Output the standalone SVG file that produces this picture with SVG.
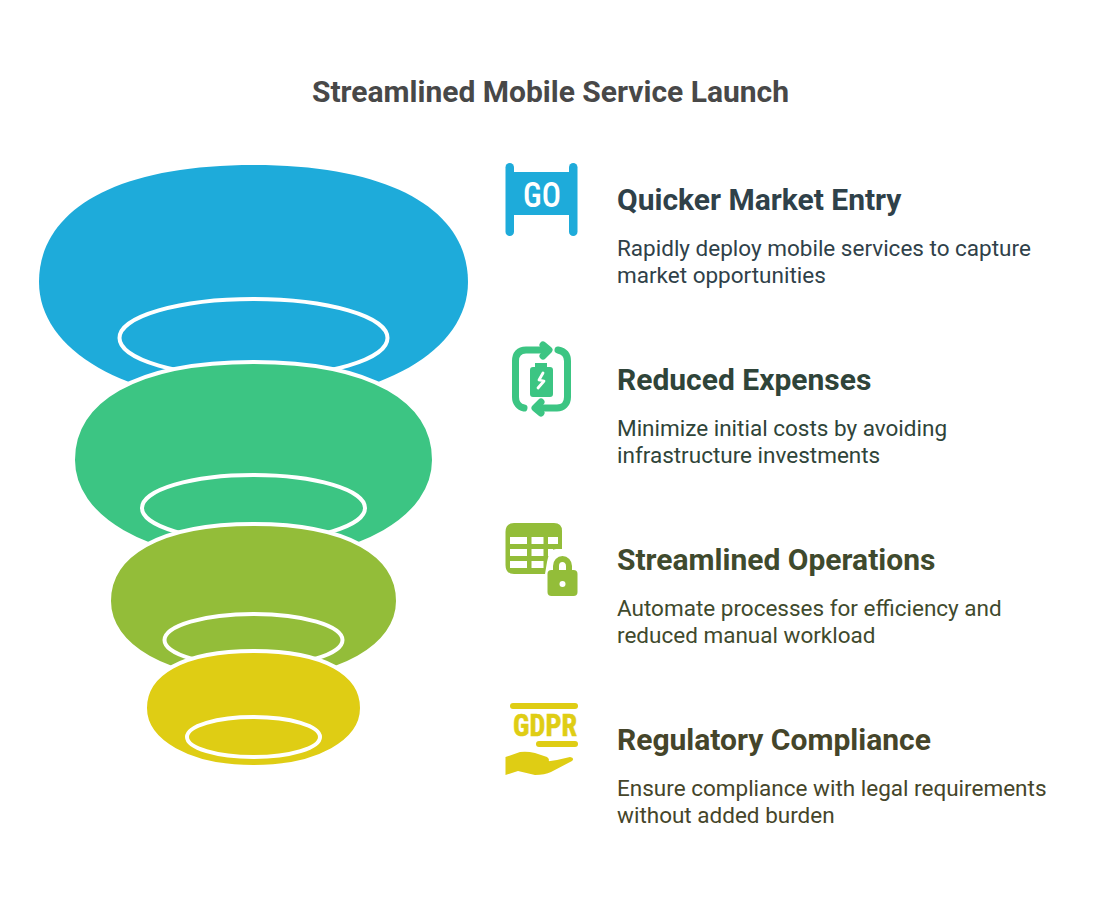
<svg xmlns="http://www.w3.org/2000/svg" width="1102" height="903" viewBox="0 0 1102 903">
<style>
text{font-family:Roboto,"Liberation Sans",sans-serif}
.t{font-size:30px;font-weight:700;fill:#484848}
.h{font-size:30px;font-weight:700}
.d{font-size:22.500px}
.ring{fill:none;stroke:#fff;stroke-width:4}
.edge{stroke:#fff;stroke-width:4}
.ic{font-family:"Roboto Condensed",Roboto,"Liberation Sans",sans-serif}
</style>
<rect width="1102" height="903" fill="#fff"/>
<text class="t" x="550.500" y="102" text-anchor="middle">Streamlined Mobile Service Launch</text>
<g id="funnel">
<g id="tier1"><path fill="#1eabda" d="M253.500 165C395 165 468 212 468 282C468 350 382 402 253.500 402C125 402 39 350 39 282C39 212 112 165 253.500 165Z"/><ellipse class="ring" cx="253.500" cy="338" rx="134" ry="39"/></g>
<g id="tier2"><path class="edge" fill="#3cc583" d="M253.500 362C372.500 362 434 401 434 460C434 517 361.500 561 253.500 561C145.500 561 73 517 73 460C73 401 134.500 362 253.500 362Z"/><ellipse class="ring" cx="253.500" cy="508" rx="111.500" ry="33"/></g>
<g id="tier3"><path class="edge" fill="#93bd39" d="M253.500 524C348.500 524 398 555 398 601C398 646 340.500 680 253.500 680C166.500 680 109 646 109 601C109 555 158.500 524 253.500 524Z"/><ellipse class="ring" cx="253.500" cy="640" rx="89" ry="26"/></g>
<g id="tier4"><path class="edge" fill="#dfcd14" d="M253.500 651C325 651 362 674 362 708C362 741 318.500 767 253.500 767C188.500 767 145 741 145 708C145 674 182 651 253.500 651Z"/><ellipse class="ring" cx="253.500" cy="737" rx="66.500" ry="20"/></g>
</g>
<g id="item1">
<g fill="#1eabda"><rect x="505.500" y="163" width="8.500" height="73" rx="4.250"/><rect x="569" y="163" width="8.500" height="73" rx="4.250"/><rect x="510" y="172" width="64" height="43"/></g>
<text class="ic" x="523" y="207" font-size="35" font-weight="500" fill="#fff" textLength="38" lengthAdjust="spacingAndGlyphs">GO</text>
<text class="h" x="617" y="210" fill="#2f4149">Quicker Market Entry</text>
<text class="d" x="617" y="256" fill="#2f4149">Rapidly deploy mobile services to capture</text>
<text class="d" x="617" y="283" fill="#2f4149">market opportunities</text>
</g>
<g id="item2">
<g fill="none" stroke="#3cc583" stroke-width="7" stroke-linecap="round" stroke-linejoin="round"><path d="M524 408C519 407 515.500 403 515.500 397V361C515.500 354 519 350 526 350H546"/><path d="M543 345L549 350L543 356"/><path d="M558 350C563 351 567.500 354 567.500 361V397C567.500 404 563 408 557 408H537"/><path d="M541 402L535 408L541 413"/></g>
<path fill="#3cc583" d="M535 363H547V367H550Q553 367 553 370V394Q553 397 550 397H533Q530 397 530 394V370Q530 367 533 367H535Z"/>
<path fill="none" stroke="#fff" stroke-width="2.800" stroke-linecap="round" stroke-linejoin="round" d="M543 373L539 380L544 381L538 388"/>
<text class="h" x="617" y="390" fill="#2f4439">Reduced Expenses</text>
<text class="d" x="617" y="436" fill="#2f4439">Minimize initial costs by avoiding</text>
<text class="d" x="617" y="463" fill="#2f4439">infrastructure investments</text>
</g>
<g id="item3">
<path fill="#93bd39" d="M514 523H554Q562 523 562 531V549H556Q549 549 547 562L545 574H514Q505.500 574 505.500 565V532Q505.500 523 514 523Z"/>
<g fill="#fff"><rect x="510" y="537" width="17" height="7"/><rect x="531.500" y="537" width="12" height="7"/><rect x="548" y="537" width="10" height="7"/><rect x="510" y="549" width="17" height="7"/><rect x="531.500" y="549" width="12" height="7"/><rect x="548" y="549" width="5" height="7"/><rect x="510" y="561" width="17" height="7"/><rect x="531.500" y="561" width="12" height="7"/></g>
<path fill="none" stroke="#93bd39" stroke-width="6" d="M556 573V566A6.500 7 0 0 1 569 566V573"/>
<rect x="547.500" y="570" width="30" height="26" rx="4" fill="#93bd39"/><circle cx="562.500" cy="584" r="3" fill="#fff"/>
<text class="h" x="617" y="570" fill="#3f4a2d">Streamlined Operations</text>
<text class="d" x="617" y="616" fill="#3f4a2d">Automate processes for efficiency and</text>
<text class="d" x="617" y="643" fill="#3f4a2d">reduced manual workload</text>
</g>
<g id="item4">
<rect x="510" y="703" width="68" height="6" rx="3" fill="#dfcd14"/>
<text class="ic" x="513" y="736" font-size="32" font-weight="700" fill="#dfcd14" stroke="#dfcd14" stroke-width="0.600" textLength="64" lengthAdjust="spacingAndGlyphs">GDPR</text>
<rect x="536" y="741" width="42" height="6" rx="3" fill="#dfcd14"/>
<path fill="#dfcd14" d="M505.500 757L520 752Q527 751 535 753L547 757Q551 760 547 763L537 763L557 760L570 757Q575 758 572 761L551 772Q545 775 535 775L518 771L505.500 775Z"/>
<text class="h" x="617" y="750" fill="#45452a">Regulatory Compliance</text>
<text class="d" x="617" y="796" fill="#45452a">Ensure compliance with legal requirements</text>
<text class="d" x="617" y="823" fill="#45452a">without added burden</text>
</g>
</svg>
